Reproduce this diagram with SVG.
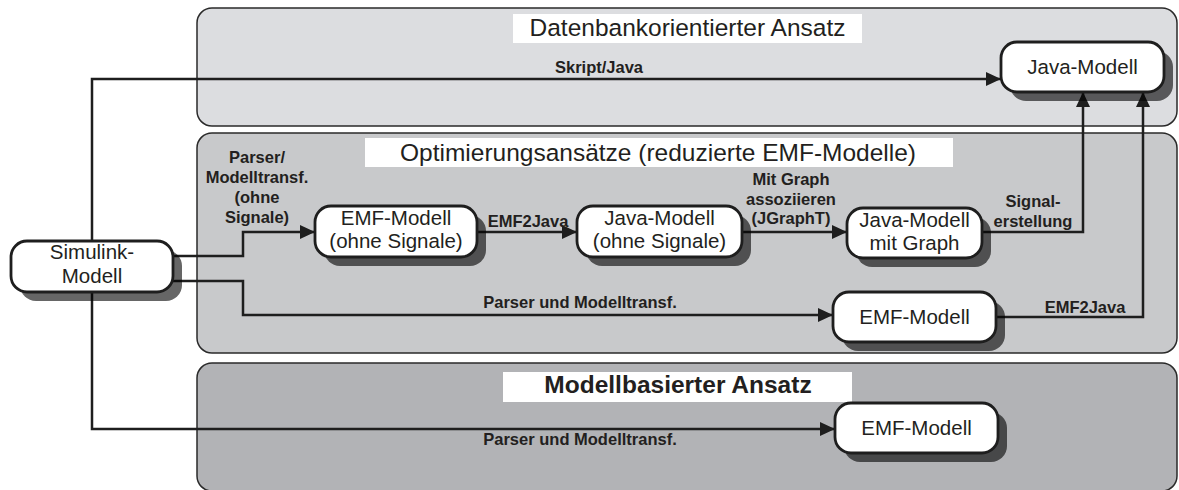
<svg xmlns="http://www.w3.org/2000/svg" width="1179" height="490" viewBox="0 0 1179 490">
<defs>
<marker id="arr" markerUnits="userSpaceOnUse" markerWidth="16" markerHeight="16" refX="15" refY="7" orient="auto">
<path d="M0,0 L15,7 L0,14 z" fill="#1e1e1e"/>
</marker>
</defs>
<style>
.panel{stroke:#2a2a2a;stroke-width:1.5}
.title{fill:#fff}
.tt{font-family:"Liberation Sans",Arial,sans-serif;font-size:24.5px;fill:#231f20;text-anchor:middle}
.node{fill:#fff;stroke:#1e1e1e;stroke-width:2.8}
.shadow{fill:#000;fill-opacity:0.6}
.nt{font-family:"Liberation Sans",Arial,sans-serif;font-size:20.5px;fill:#231f20;text-anchor:middle}
.lbl{font-family:"Liberation Sans",Arial,sans-serif;font-size:16.5px;font-weight:bold;fill:#231f20;text-anchor:middle}
.con{fill:none;stroke:#1e1e1e;stroke-width:2.5;marker-end:url(#arr)}
</style>

<g id="panel-datenbank">
<rect class="panel" x="197" y="8" width="980" height="118" rx="15" fill="#dcdde0"/>
<rect class="title" x="513" y="14" width="349" height="29"/>
<text class="tt" x="687.5" y="36">Datenbankorientierter Ansatz</text>
</g>
<g id="panel-optimierung">
<rect class="panel" x="197" y="133" width="980" height="220" rx="15" fill="#c8c9cb"/>
<rect class="title" x="365" y="138" width="588" height="29"/>
<text class="tt" x="658" y="161">Optimierungsansätze (reduzierte EMF-Modelle)</text>
</g>
<g id="panel-modellbasiert">
<rect class="panel" x="197" y="363" width="980" height="128" rx="15" fill="#b2b3b6"/>
<rect class="title" x="503" y="372" width="349" height="30"/>
<text class="tt" x="678" y="393" font-weight="bold">Modellbasierter Ansatz</text>
</g>

<g id="connectors">
<path class="con" d="M92,266 V79 H1001"/>
<path class="con" d="M92,266 V429 H835"/>
<path class="con" d="M173,256 H243 V232 H315"/>
<path class="con" d="M173,281 H243 V315 H833"/>
<path class="con" d="M477,232 H577"/>
<path class="con" d="M742,232 H847"/>
<path class="con" d="M982,232 H1083 V92"/>
<path class="con" d="M996,317 H1143 V92"/>
<text class="lbl" x="599" y="73">Skript/Java</text>
<text class="lbl" x="257" y="163">Parser/</text>
<text class="lbl" x="257" y="183">Modelltransf.</text>
<text class="lbl" x="257" y="203">(ohne</text>
<text class="lbl" x="257" y="223">Signale)</text>
<text class="lbl" x="528" y="227">EMF2Java</text>
<text class="lbl" x="791" y="185">Mit Graph</text>
<text class="lbl" x="791" y="205">assoziieren</text>
<text class="lbl" x="791" y="224">(JGraphT)</text>
<text class="lbl" x="1033" y="207">Signal-</text>
<text class="lbl" x="1033" y="227">erstellung</text>
<text class="lbl" x="580" y="308">Parser und Modelltransf.</text>
<text class="lbl" x="1085" y="313">EMF2Java</text>
<text class="lbl" x="580" y="445">Parser und Modelltransf.</text>
</g>

<g id="node-simulink">
<rect class="shadow" x="20" y="250" width="162" height="51" rx="16"/>
<rect class="node" x="11" y="241" width="162" height="51" rx="16"/>
<text class="nt" x="92" y="259">Simulink-</text>
<text class="nt" x="92" y="283">Modell</text>
</g>
<g id="node-java-top">
<rect class="shadow" x="1010" y="51" width="163" height="50" rx="16"/>
<rect class="node" x="1001" y="42" width="163" height="50" rx="16"/>
<text class="nt" x="1082.5" y="74">Java-Modell</text>
</g>
<g id="node-emf-ohne">
<rect class="shadow" x="324" y="215" width="162" height="51" rx="16"/>
<rect class="node" x="315" y="206" width="162" height="51" rx="16"/>
<text class="nt" x="396" y="225">EMF-Modell</text>
<text class="nt" x="396" y="248">(ohne Signale)</text>
</g>
<g id="node-java-ohne">
<rect class="shadow" x="586" y="215" width="165" height="51" rx="16"/>
<rect class="node" x="577" y="206" width="165" height="51" rx="16"/>
<text class="nt" x="659.5" y="225">Java-Modell</text>
<text class="nt" x="659.5" y="248">(ohne Signale)</text>
</g>
<g id="node-java-graph">
<rect class="shadow" x="856" y="217" width="135" height="50" rx="16"/>
<rect class="node" x="847" y="208" width="135" height="50" rx="16"/>
<text class="nt" x="914.5" y="227">Java-Modell</text>
<text class="nt" x="914.5" y="250">mit Graph</text>
</g>
<g id="node-emf-mid">
<rect class="shadow" x="842" y="301" width="163" height="50" rx="16"/>
<rect class="node" x="833" y="292" width="163" height="50" rx="16"/>
<text class="nt" x="914.5" y="324">EMF-Modell</text>
</g>
<g id="node-emf-bottom">
<rect class="shadow" x="844" y="412" width="163" height="50" rx="16"/>
<rect class="node" x="835" y="403" width="163" height="50" rx="16"/>
<text class="nt" x="916.5" y="435">EMF-Modell</text>
</g>
</svg>
